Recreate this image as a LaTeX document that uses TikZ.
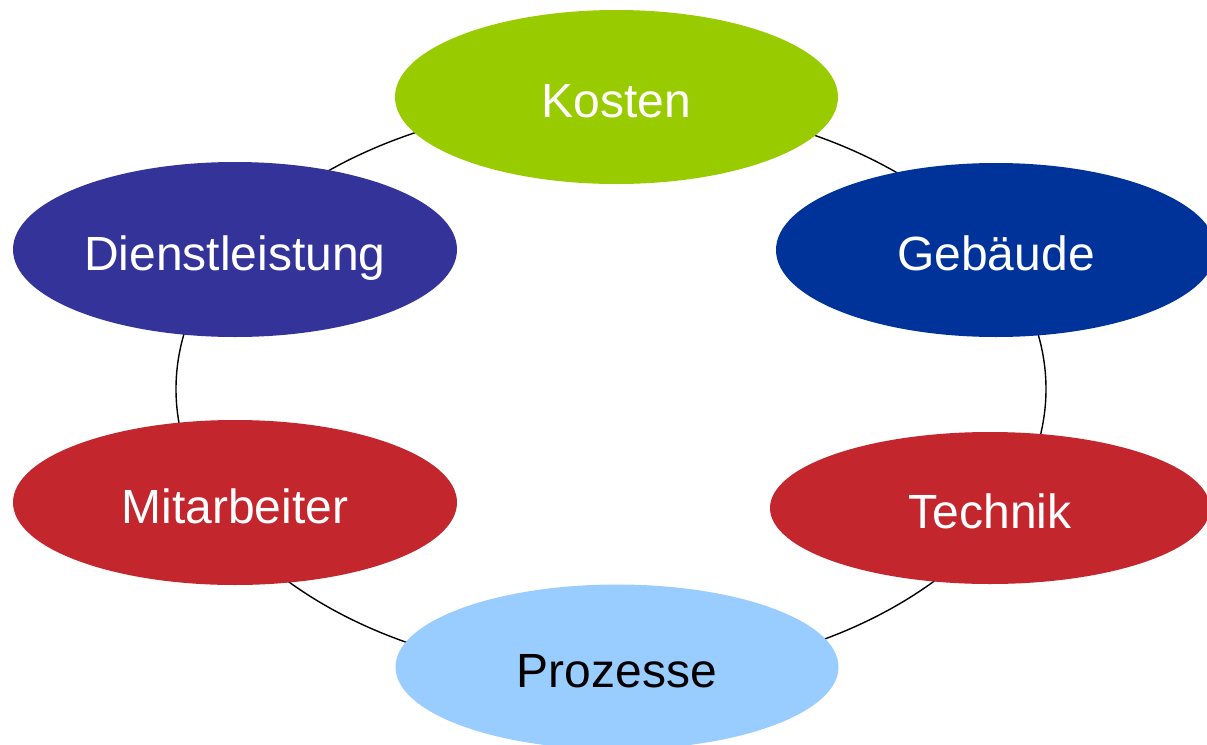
\documentclass[tikz,border=0pt]{standalone}
\usepackage{fontspec}
\setmainfont{Liberation Sans}
\usetikzlibrary{shapes.geometric}
\definecolor{kgreen}{HTML}{99CC00}
\definecolor{gblue}{HTML}{003399}
\definecolor{dviolet}{HTML}{333399}
\definecolor{mred}{HTML}{C4262E}
\definecolor{plblue}{HTML}{99CCFF}
\tikzset{
  bubble/.style={ellipse, draw=none, inner sep=0pt, text height=20.5pt, text depth=0pt, font=\fontsize{24}{28}\selectfont},
}
\begin{document}
\begin{tikzpicture}[x=0.5pt, y=-0.5pt]
\useasboundingbox (0,0) rectangle (1207,745);
\clip (0,0) rectangle (1207,745);
\fill[white] (0,0) rectangle (1207,745);
\draw[line width=0.7pt] (611,389) ellipse (435 and 287);
\node[bubble, fill=kgreen, text=white, minimum width=221.5pt, minimum height=87pt] (kosten) at (616.5,97) {Kosten};
\node[bubble, fill=gblue, text=white, minimum width=220pt, minimum height=87pt] (gebaeude) at (996,250) {Gebäude};
\node[bubble, fill=dviolet, text=white, minimum width=222pt, minimum height=87.5pt] (dienst) at (235,249.5) {Dienstleistung};
\node[bubble, fill=mred, text=white, minimum width=222pt, minimum height=82.5pt] (mitarb) at (235,502.5) {Mitarbeiter};
\node[bubble, fill=mred, text=white, minimum width=220pt, minimum height=76pt] (technik) at (990,508) {Technik};
\node[bubble, fill=plblue, text=black, minimum width=221.5pt, minimum height=82.5pt] (prozesse) at (617,667) {Prozesse};
\end{tikzpicture}
\end{document}
